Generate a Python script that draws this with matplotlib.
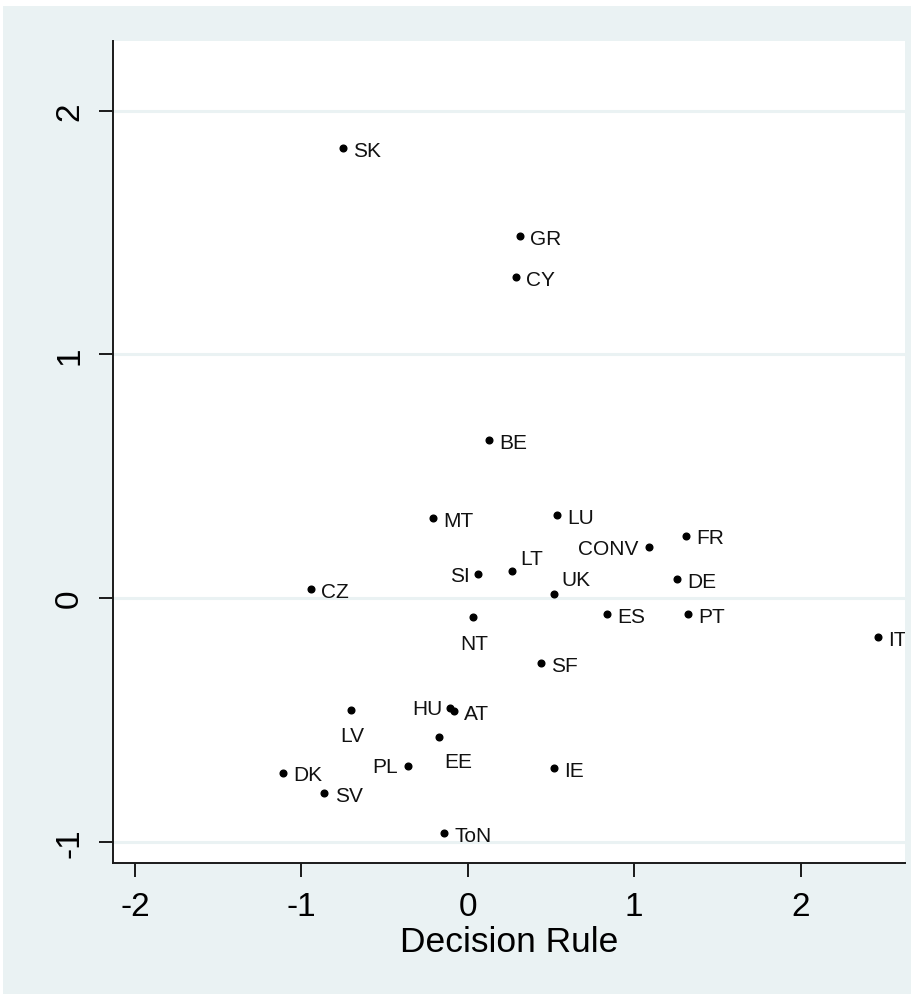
import matplotlib
matplotlib.use('Agg')
import matplotlib.pyplot as plt
from matplotlib.patches import Rectangle

plt.rcParams['font.family'] = ['Liberation Sans', 'DejaVu Sans']

# country codes and their scores
codes = ['SK', 'GR', 'CY', 'BE', 'MT', 'LU', 'CONV', 'FR', 'SI', 'LT', 'UK', 'DE',
         'ES', 'PT', 'NT', 'SF', 'IT', 'CZ', 'LV', 'HU', 'AT', 'EE', 'PL', 'DK',
         'SV', 'IE', 'ToN']
decision_rule = [-0.752, 0.313, 0.289, 0.126, -0.208, 0.537, 1.090, 1.311, 0.062, 0.265,
                 0.521, 1.255, 0.838, 1.323, 0.030, 0.441, 2.463, -0.944, -0.702, -0.108,
                 -0.084, -0.174, -0.359, -1.112, -0.862, 0.519, -0.144]
score = [1.847, 1.485, 1.317, 0.648, 0.327, 0.341, 0.209, 0.256, 0.097, 0.112,
         0.015, 0.078, -0.066, -0.066, -0.077, -0.268, -0.161, 0.037, -0.458, -0.449,
         -0.464, -0.568, -0.687, -0.717, -0.801, -0.699, -0.964]

# label placement (offset in points, horizontal alignment), default is to the right
label_pos = {
    'SI': (-6, -1, 'right'), 'CONV': (-8, -1, 'right'), 'HU': (-5, -1, 'right'),
    'PL': (-7, -1, 'right'),
    'NT': (1, -12, 'center'), 'LV': (1, -12, 'center'), 'EE': (14, -11, 'center'),
    'LT': (6, 9, 'left'), 'UK': (5, 11, 'left'),
}

bg = '#EAF2F3'

fig = plt.figure(figsize=(9.12, 9.95), dpi=100)
fig.patch.set_facecolor('white')
fig.patches.append(Rectangle((3 / 912, 0), 1, 1 - 7 / 995, transform=fig.transFigure,
                             facecolor=bg, edgecolor='none', zorder=-10))

ax = fig.add_axes([113 / 912, 131 / 995, 792 / 912, 822 / 995])
ax.set_facecolor('white')

ax.plot(decision_rule, score, 'o', color='black', ms=4.8, zorder=3)

for c, x, y in zip(codes, decision_rule, score):
    dx, dy, ha = label_pos.get(c, (7.5, -1.5, 'left'))
    va = 'top' if ha == 'center' else 'center'
    ax.annotate(c, (x, y), xytext=(dx, dy), textcoords='offset points',
                ha=ha, va=va, fontsize=15, color='#111111', clip_on=True,
                annotation_clip=True)

ax.set_xlim(-2.132, 2.628)
ax.set_ylim(-1.087, 2.286)
ax.set_xticks([-2, -1, 0, 1, 2])
ax.set_yticks([-1, 0, 1, 2])
ax.set_xticklabels(['-2', '-1', '0', '1', '2'])
ax.set_yticklabels(['-1', '0', '1', '2'], rotation=90, va='center')

ax.yaxis.grid(True, color=bg, lw=2.2)
ax.set_axisbelow(True)

for s in ['top', 'right']:
    ax.spines[s].set_visible(False)
for s in ['left', 'bottom']:
    ax.spines[s].set_color('#1a1a1a')
    ax.spines[s].set_linewidth(1.4)

ax.tick_params(direction='out', length=10, width=1.4, color='#1a1a1a',
               labelsize=24, pad=10)
ax.set_xlabel('Decision Rule', fontsize=25.5, labelpad=2)

fig.savefig('out.png', dpi=100)
